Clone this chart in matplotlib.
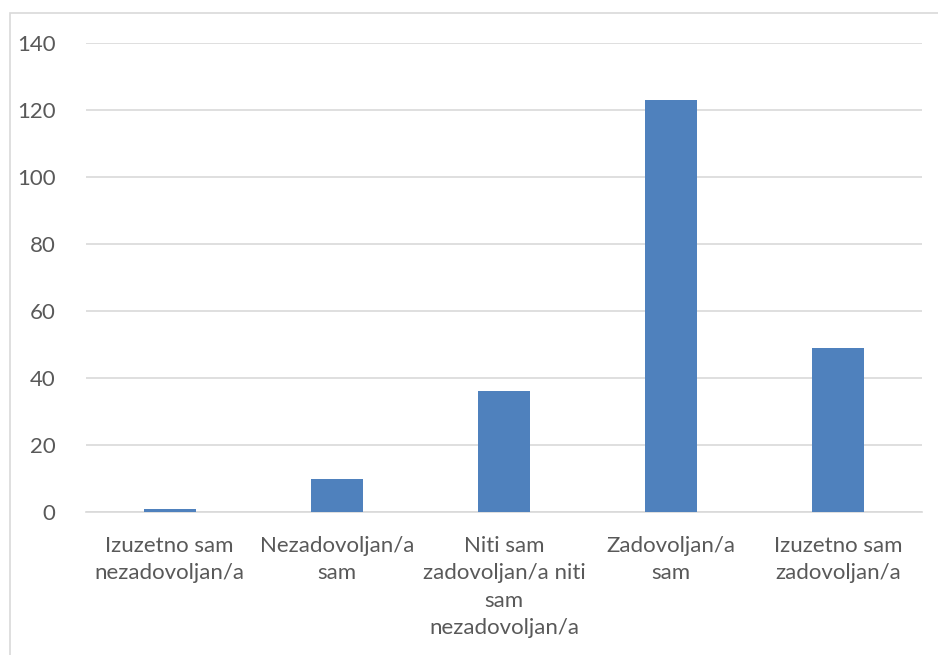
import matplotlib.pyplot as plt
from matplotlib.patches import Rectangle

# ---- data ----
categories = [
    "Izuzetno sam\nnezadovoljan/a",
    "Nezadovoljan/a\nsam",
    "Niti sam\nzadovoljan/a niti\nsam\nnezadovoljan/a",
    "Zadovoljan/a\nsam",
    "Izuzetno sam\nzadovoljan/a",
]
counts = [1, 10, 36, 123, 49]
y_ticks = [0, 20, 40, 60, 80, 100, 120, 140]

text_col = "#595959"
bar_col = "#4F81BD"
grid_col = "#D9D9D9"

plt.rcParams['font.family'] = ['Lato', 'DejaVu Sans']

fig = plt.figure(figsize=(9.38, 6.55), dpi=100)
ax = fig.add_axes([86 / 938, 1 - 512 / 655, 836 / 938, 469 / 655])

# chart area border (cropped at right and bottom)
fig.patches.append(Rectangle((10 / 938, -0.1), 1.2, (1 - 13 / 655) + 0.1,
                             transform=fig.transFigure, fill=False,
                             edgecolor="#D9D9D9", linewidth=1.2))

x = range(len(categories))
ax.bar(x, counts, width=0.31, color=bar_col, zorder=3)

ax.set_ylim(0, 140)
ax.set_xlim(-0.5, len(categories) - 0.5)
ax.set_yticks(y_ticks)
ax.set_xticks(list(x))
ax.set_xticklabels(categories, linespacing=1.47)
ax.tick_params(axis='both', length=0, colors=text_col, labelsize=16)
ax.tick_params(axis='y', pad=22)
ax.tick_params(axis='x', pad=17)

ax.grid(axis='y', color=grid_col, linewidth=1.2, zorder=0)
for s in ["top", "right", "left"]:
    ax.spines[s].set_visible(False)
ax.spines["bottom"].set_color(grid_col)
ax.spines["bottom"].set_linewidth(1.2)

fig.savefig("out.png", dpi=100)
